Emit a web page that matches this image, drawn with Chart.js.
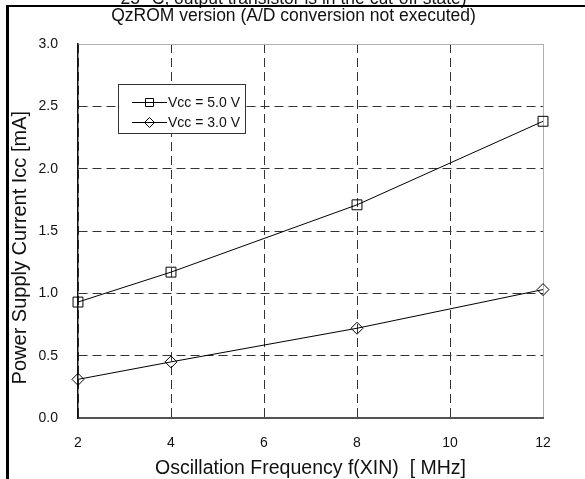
<!DOCTYPE html>
<html>
<head>
<meta charset="utf-8">
<script src="https://cdn.jsdelivr.net/npm/chart.js@4.4.1/dist/chart.umd.min.js"></script>
<style>
    html, body { margin: 0; padding: 0; background: #fff; }
    #wrap { position: relative; width: 585px; height: 479px; overflow: hidden; }
    #holder { position: absolute; left: 0; top: -14px; width: 585px; height: 493px; }
    #frame { position: absolute; left: 6px; top: 5px; right: -10px; bottom: -10px; border-top: 2px solid #000; border-left: 3px solid #000; pointer-events: none; }
    #legend { position: absolute; left: 118px; top: 84px; width: 126px; height: 48px; border: 1px solid #333; background: #fff; font: 14px Arial, 'Liberation Sans', sans-serif; color: #111; }
    .item { position: absolute; left: 13px; height: 16px; display: flex; align-items: center; white-space: nowrap; }
    .item canvas { margin-right: 1px; }
</style>
</head>
<body>
<div id="wrap">
    <div id="holder"><canvas id="ccChart"></canvas></div>
    <div id="legend"></div>
    <div id="frame"></div>
</div>
<script>
const FONT = "Arial, 'Liberation Sans', sans-serif";

// oscillation frequency f(XIN) [MHz]
const freqs = [2, 4, 8, 12];
// Icc [mA]
const vcc5 = [0.93, 1.17, 1.71, 2.38];
const vcc3 = [0.31, 0.45, 0.72, 1.03];
const seriesNames = ['Vcc = 5.0 V', 'Vcc = 3.0 V'];
const xTicks = [2, 4, 6, 8, 10, 12];
const yTicks = [0, 0.5, 1.0, 1.5, 2.0, 2.5, 3.0];
const titleLines = ['25 °C, output transistor is in the cut-off state)', 'QzROM version (A/D conversion not executed)'];

const toPoints = vals => freqs.map((f, i) => ({ x: f, y: vals[i] }));

const datasets = [
    { label: seriesNames[0], data: toPoints(vcc5), pointStyle: 'rect', pointRadius: 7 },
    { label: seriesNames[1], data: toPoints(vcc3), pointStyle: 'rectRot', pointRadius: 6 }
].map(d => Object.assign(d, {
    borderColor: '#000',
    borderWidth: 1,
    pointBorderColor: '#000',
    pointBackgroundColor: 'rgba(0,0,0,0)',
    pointBorderWidth: 1,
    pointHoverRadius: d.pointRadius,
    tension: 0,
    clip: false
}));

function legendIcon(style, r) {
    const c = document.createElement('canvas');
    c.width = 35; c.height = 14;
    const g = c.getContext('2d');
    g.strokeStyle = '#000';
    g.lineWidth = 1;
    g.beginPath();
    g.moveTo(0, 7.5); g.lineTo(35, 7.5);
    g.stroke();
    g.beginPath();
    if (style === 'rect') {
        const s = Math.SQRT1_2 * r;
        g.rect(Math.round(17.5 - s) + 0.5, Math.round(7.5 - s) + 0.5, Math.round(2 * s), Math.round(2 * s));
    } else {
        g.moveTo(17.5, 7.5 - r); g.lineTo(17.5 + r, 7.5);
        g.lineTo(17.5, 7.5 + r); g.lineTo(17.5 - r, 7.5);
        g.closePath();
    }
    g.stroke();
    return c;
}

function renderLegend() {
    const box = document.getElementById('legend');
    datasets.forEach((d, i) => {
        const row = document.createElement('div');
        row.className = 'item';
        row.style.top = (9 + i * 20) + 'px';
        row.appendChild(legendIcon(d.pointStyle, d.pointRadius - 1));
        const span = document.createElement('span');
        span.textContent = d.label;
        row.appendChild(span);
        box.appendChild(row);
    });
}

const ctx = document.getElementById('ccChart').getContext('2d');
new Chart(ctx, {
    type: 'line',
    data: { datasets: datasets },
    options: {
        responsive: true,
        maintainAspectRatio: false,
        animation: false,
        events: [],
        layout: { padding: { left: 2, right: 0, top: 0, bottom: 0 } },
        plugins: {
            legend: { display: false },
            tooltip: { enabled: false },
            title: {
                display: true,
                text: titleLines,
                color: '#111',
                font: { family: FONT, size: 17.5, weight: 'normal', lineHeight: '17px' },
                padding: { top: 4.2, bottom: 19.8 }
            }
        },
        scales: {
            x: {
                type: 'linear',
                min: 2,
                max: 12,
                afterBuildTicks: s => { s.ticks = xTicks.map(v => ({ value: v })); },
                afterFit: s => { s.height = 61; },
                grid: { color: '#333', lineWidth: 1, drawTicks: false },
                border: { display: true, color: '#555', width: 2, dash: [9, 5] },
                ticks: { padding: 17, color: '#111', font: { family: FONT, size: 14 } },
                title: {
                    display: true,
                    text: 'Oscillation Frequency f(XIN)  [ MHz]',
                    color: '#111',
                    font: { family: FONT, size: 19.5, lineHeight: 1 },
                    padding: { top: 0, bottom: 0.5 }
                }
            },
            y: {
                min: 0,
                max: 3,
                afterBuildTicks: s => { s.ticks = yTicks.map(v => ({ value: v })); },
                afterFit: s => { s.width = 76; },
                grid: { color: '#333', lineWidth: 1, drawTicks: false },
                border: { display: true, color: '#111', width: 1.5, dash: [9, 5] },
                ticks: { padding: 20, color: '#111', font: { family: FONT, size: 14 }, callback: v => v.toFixed(1) },
                title: {
                    display: true,
                    text: 'Power Supply Current Icc [mA]      ',
                    color: '#111',
                    font: { family: FONT, size: 20, lineHeight: 1 },
                    padding: { top: 8, bottom: 0 }
                }
            },
            x2: {
                type: 'linear',
                position: 'top',
                min: 2,
                max: 12,
                afterFit: s => { s.height = 0; },
                grid: { display: false, drawTicks: false },
                border: { display: true, color: '#b0b0b0', width: 1, z: -1 },
                ticks: { display: false }
            },
            y2: {
                position: 'right',
                min: 0,
                max: 3,
                afterFit: s => { s.width = 42; },
                grid: { display: false, drawTicks: false },
                border: { display: true, color: '#b0b0b0', width: 1, z: -1 },
                ticks: { display: false }
            }
        }
    }
});

renderLegend();
</script>
</body>
</html>
